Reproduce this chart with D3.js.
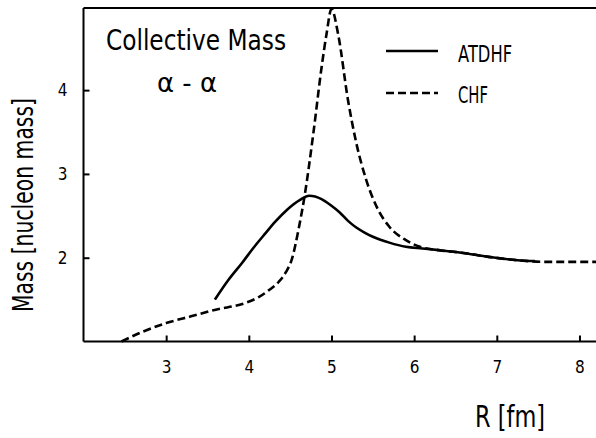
<!DOCTYPE html>
<html>
<head>
<meta charset="utf-8">
<script src="https://cdn.jsdelivr.net/npm/d3@7"></script>
<style>
  body { margin: 0; background: #fff; }
  text { font-family: "DejaVu Sans", sans-serif; fill: #000; }
</style>
</head>
<body>
<svg id="chart" width="596" height="438"></svg>
<script>
// ATDHF collective mass (solid)
const atdhfR = [3.59, 3.75, 3.92, 4.05, 4.2, 4.32, 4.46, 4.62, 4.73, 4.88, 5.0, 5.1, 5.2, 5.3, 5.4, 5.5, 5.7, 5.9, 6.1, 6.3, 6.57, 6.9, 7.25, 7.46];
const atdhfM = [1.50, 1.73, 1.94, 2.11, 2.29, 2.43, 2.57, 2.69, 2.74, 2.70, 2.62, 2.54, 2.44, 2.36, 2.30, 2.25, 2.18, 2.13, 2.11, 2.09, 2.06, 2.01, 1.97, 1.96];

// CHF collective mass (dashed)
const chfR = [2.46, 2.7, 3.0, 3.3, 3.6, 3.96, 4.12, 4.24, 4.36, 4.45, 4.52, 4.6, 4.68, 4.78, 4.88, 4.94, 5.0, 5.08, 5.2, 5.3, 5.42, 5.55, 5.7, 5.9, 6.07, 6.3, 6.57, 6.9, 7.25, 7.6, 8.2];
const chfM = [1.0, 1.11, 1.22, 1.30, 1.38, 1.46, 1.53, 1.61, 1.71, 1.83, 1.98, 2.33, 2.77, 3.48, 4.27, 4.67, 4.97, 4.67, 3.88, 3.37, 2.93, 2.60, 2.37, 2.21, 2.13, 2.09, 2.06, 2.01, 1.97, 1.95, 1.95];

const xTicks = [3, 4, 5, 6, 7, 8];
const yTicks = [2, 3, 4];
const legendNames = ["ATDHF", "CHF"];

const svg = d3.select("#chart");

const x = d3.scaleLinear().domain([2, 8.2]).range([83.5, 596]);
const y = d3.scaleLinear().domain([1, 4.98]).range([341.5, 8]);

// frame: left, top and bottom lines
const frame = svg.append("g").attr("stroke", "#000").attr("stroke-width", 2);
frame.append("line").attr("x1", x(2)).attr("x2", x(2)).attr("y1", y(4.98)).attr("y2", y(1));
frame.append("line").attr("x1", x(2)).attr("x2", 596).attr("y1", y(4.98)).attr("y2", y(4.98));
frame.append("line").attr("x1", x(2)).attr("x2", 596).attr("y1", y(1)).attr("y2", y(1));

// x axis, ticks pointing up
const xAxis = svg.append("g")
  .attr("transform", `translate(0,${y(1)})`)
  .call(d3.axisBottom(x).tickValues(xTicks).tickSize(-6).tickPadding(19).tickFormat(d3.format("d")));
xAxis.select(".domain").remove();
xAxis.selectAll("line").attr("stroke-width", 2);
xAxis.selectAll("text").attr("font-size", 17).attr("dy", "0.71em")
  .style("font-family", "DejaVu Sans Condensed, DejaVu Sans");

// y axis, ticks pointing right
const yAxis = svg.append("g")
  .attr("transform", `translate(${x(2)},0)`)
  .call(d3.axisLeft(y).tickValues(yTicks).tickSize(-6).tickPadding(16).tickFormat(d3.format("d")));
yAxis.select(".domain").remove();
yAxis.selectAll("line").attr("stroke-width", 2);
yAxis.selectAll("text").attr("font-size", 17).attr("text-anchor", "middle").attr("x", -21)
  .style("font-family", "DejaVu Sans Condensed, DejaVu Sans");

// curves
const line = (rs, ms) => d3.line()
  .x((d, i) => x(rs[i]))
  .y((d, i) => y(ms[i]))
  .curve(d3.curveMonotoneX)(rs);

svg.append("path").attr("d", line(atdhfR, atdhfM))
  .attr("fill", "none").attr("stroke", "#000").attr("stroke-width", 2.6);

svg.append("path").attr("d", line(chfR, chfM))
  .attr("fill", "none").attr("stroke", "#000").attr("stroke-width", 2.6)
  .attr("stroke-dasharray", "8,4");

// legend
const legend = svg.append("g");
legend.append("line").attr("x1", 386).attr("x2", 438).attr("y1", 51).attr("y2", 51)
  .attr("stroke", "#000").attr("stroke-width", 2.6);
legend.append("line").attr("x1", 386).attr("x2", 438).attr("y1", 93).attr("y2", 93)
  .attr("stroke", "#000").attr("stroke-width", 2.6).attr("stroke-dasharray", "8,4");
legend.append("text").attr("x", 458).attr("y", 62).attr("font-size", 23)
  .attr("textLength", 54).attr("lengthAdjust", "spacingAndGlyphs").text(legendNames[0]);
legend.append("text").attr("x", 458).attr("y", 103).attr("font-size", 23)
  .attr("textLength", 30).attr("lengthAdjust", "spacingAndGlyphs").text(legendNames[1]);

// titles inside the plot
svg.append("text").attr("x", 106).attr("y", 50).attr("font-size", 29)
  .attr("textLength", 180).attr("lengthAdjust", "spacingAndGlyphs").text("Collective Mass");
svg.append("text").attr("x", 157).attr("y", 92).attr("font-size", 27)
  .attr("textLength", 60).attr("lengthAdjust", "spacingAndGlyphs").text("α - α");

// axis labels
svg.append("text").attr("x", 475).attr("y", 427).attr("font-size", 30)
  .attr("textLength", 70).attr("lengthAdjust", "spacingAndGlyphs").text("R [fm]");
svg.append("text").attr("transform", "translate(33,312) rotate(-90)").attr("font-size", 28)
  .attr("textLength", 214).attr("lengthAdjust", "spacingAndGlyphs").text("Mass [nucleon mass]");
</script>
</body>
</html>
